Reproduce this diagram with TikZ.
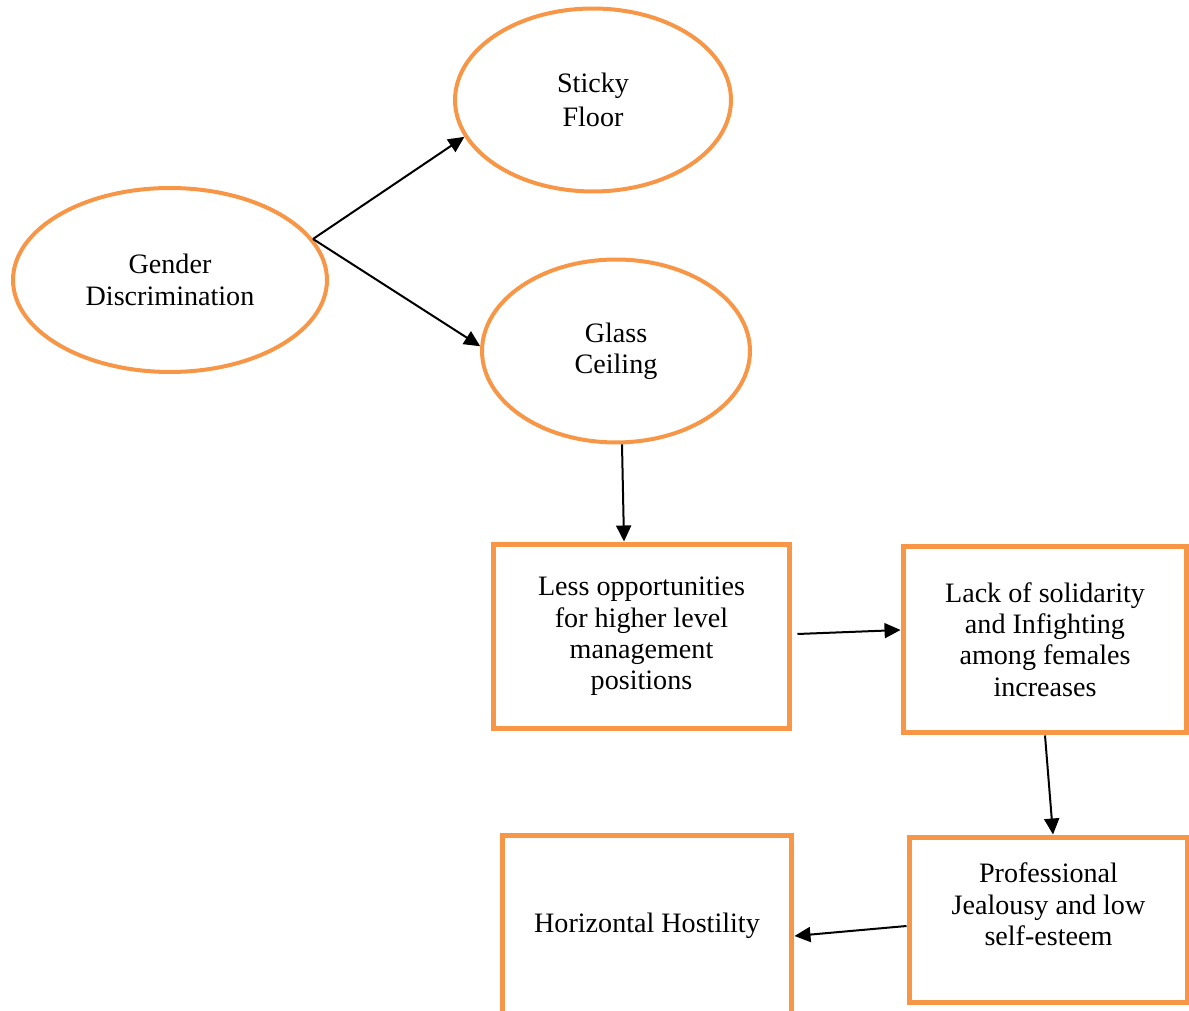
\documentclass[tikz,border=0pt]{standalone}
\usepackage{fontspec}
\setmainfont{Liberation Serif}
\usetikzlibrary{shapes.geometric,arrows.meta}
\definecolor{boxorange}{HTML}{F79646}
\tikzset{
	% ovals of the upper part
	orange oval/.style={
		ellipse, draw=boxorange, line width=0.08cm, inner sep=0pt,
		align=center, font=\fontsize{16}{17.8}\selectfont
	},
	% boxes of the lower part
	orange box/.style={
		rectangle, draw=boxorange, line width=0.1cm, inner sep=0pt,
		align=center, font=\fontsize{16}{17.8}\selectfont
	},
	% plain black connector
	flow arrow/.style={
		draw=black, line width=0.04cm,
		-{Triangle[length=0.32cm,width=0.3cm]}
	},
}
\begin{document}
\begin{tikzpicture}[x=0.02cm,y=0.02cm]
		\clip (0,0) rectangle (1189,1010);
		\node[orange oval,minimum width=6.28cm,minimum height=3.68cm] (gender) at (170,730) {Gender\\Discrimination};
		\node[orange oval,minimum width=5.52cm,minimum height=3.66cm] (sticky) at (593,910) {Sticky\\[2pt]Floor};
		\node[orange oval,minimum width=5.36cm,minimum height=3.66cm] (glass) at (616,659) {Glass\\Ceiling};
		\node[orange box,minimum width=5.94cm,minimum height=3.7cm] (less) at (641.5,373.5) {Less opportunities\\for higher level\\management\\positions};
		\node[orange box,minimum width=5.68cm,minimum height=3.74cm] (lack) at (1045,370.5) {Lack of solidarity\\and Infighting\\among females\\increases};
		\node[orange box,minimum width=5.58cm,minimum height=3.32cm] (prof) at (1048.5,90) {Professional\\Jealousy and low\\self-esteem\\\mbox{}};
		\node[orange box,minimum width=5.8cm,minimum height=3.64cm] (hh) at (647,84) {Horizontal Hostility};
		\draw[flow arrow] (gender.16) -- (sticky.196);
		\draw[flow arrow] (gender.16) -- (glass.178);
		\draw[flow arrow] ([xshift=0.12cm]glass.south) -- ([xshift=-0.35cm]less.north);
		\draw[flow arrow] ([xshift=0.1cm,yshift=0.05cm]less.east) -- ([yshift=0.19cm]lack.west);
		\draw[flow arrow] (lack.south) -- ([xshift=0.09cm]prof.north);
		\draw[flow arrow] ([yshift=-0.12cm]prof.west) -- ([yshift=-0.2cm]hh.east);
		\end{tikzpicture}
\end{document}
